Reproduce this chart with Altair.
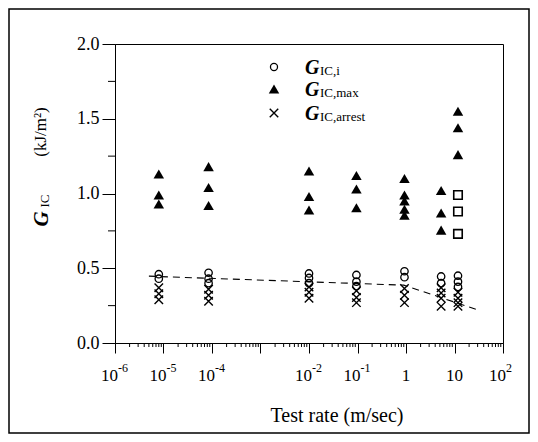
import altair as alt
import pandas as pd

# ---------------- data ----------------
rates = [8e-6, 8.5e-5, 1e-2, 0.095, 0.93, 5.3, 11.8]

gi_rate = [8e-6, 8e-6,
           8.5e-5, 8.5e-5, 8.5e-5,
           1e-2, 1e-2, 1e-2,
           0.095, 0.095, 0.095,
           0.93, 0.93,
           5.3, 5.3,
           11.8, 11.8, 11.8]
gi_val = [0.46, 0.43,
          0.47, 0.43, 0.40,
          0.465, 0.435, 0.40,
          0.455, 0.41, 0.38,
          0.48, 0.44,
          0.445, 0.40,
          0.45, 0.41, 0.375]

gmax_rate = [8e-6, 8e-6, 8e-6,
             8.5e-5, 8.5e-5, 8.5e-5,
             1e-2, 1e-2, 1e-2,
             0.095, 0.095, 0.095,
             0.93, 0.93, 0.93, 0.93, 0.93,
             5.3, 5.3, 5.3,
             11.8, 11.8, 11.8]
gmax_val = [1.13, 0.99, 0.93,
            1.18, 1.04, 0.92,
            1.15, 0.98, 0.89,
            1.12, 1.03, 0.905,
            1.10, 0.99, 0.95, 0.895, 0.855,
            1.02, 0.87, 0.755,
            1.55, 1.44, 1.26]

garr_rate = [8e-6, 8e-6, 8e-6,
             8.5e-5, 8.5e-5, 8.5e-5,
             1e-2, 1e-2, 1e-2,
             0.095, 0.095, 0.095,
             0.93, 0.93, 0.93,
             5.3, 5.3, 5.3, 5.3,
             11.8, 11.8, 11.8, 11.8]
garr_val = [0.37, 0.33, 0.29,
            0.36, 0.32, 0.28,
            0.375, 0.34, 0.30,
            0.35, 0.305, 0.27,
            0.365, 0.32, 0.27,
            0.37, 0.335, 0.30, 0.245,
            0.34, 0.30, 0.27, 0.245]

sq_rate = [11.8, 11.8, 11.8]
sq_val = [0.99, 0.88, 0.73]

trend_rate = [5e-6, 0.9, 28]
trend_val = [0.447, 0.387, 0.225]

x_major = [1e-6, 1e-5, 1e-4, 1e-3, 1e-2, 1e-1, 1, 10, 100]
x_minor = [m * 10.0 ** d for d in range(-6, 2) for m in range(2, 10)]
y_major = [0.0, 0.5, 1.0, 1.5, 2.0]
y_minor = [0.25, 0.75, 1.25, 1.75]

xlab_val = [1e-6, 1e-5, 1e-4, 1e-2, 1e-1, 1, 10, 100]
xlab_base = ["10", "10", "10", "10", "10", "1", "10", "10"]
xlab_exp = ["-6", "-5", "-4", "-2", "-1", "", "", "2"]

legend_sub = ["IC,i", "IC,max", "IC,arrest"]

FONT = "Liberation Serif"
W, H = 388, 299

xs = alt.Scale(type="log", domain=[1e-6, 100], nice=False)
ys = alt.Scale(domain=[0, 2], nice=False)

def pts(r, v):
    return pd.DataFrame({"rate": r, "g": v})

X = alt.X("rate:Q", scale=xs,
          axis=alt.Axis(values=x_major, labels=False, tickSize=10, title=None,
                        grid=False, domainColor="black", tickColor="black"))
Y = alt.Y("g:Q", scale=ys,
          axis=alt.Axis(values=y_major, format=".1f", tickSize=13, labelPadding=3,
                        labelFont=FONT, labelFontSize=18, labelColor="black",
                        title=None, grid=False, domainColor="black", tickColor="black"))

cross_path = "M-1,-1L1,1M-1,1L1,-1"

base_axes = alt.Chart(pts(gi_rate, gi_val)).mark_point(
    shape="circle", filled=False, color="black", size=55, strokeWidth=1.3, opacity=1
).encode(x=X, y=Y)

tri = alt.Chart(pts(gmax_rate, gmax_val)).mark_point(
    shape="triangle-up", filled=True, color="black", size=110, opacity=1
).encode(x=alt.X("rate:Q", scale=xs), y=alt.Y("g:Q", scale=ys))

crs = alt.Chart(pts(garr_rate, garr_val)).mark_point(
    shape=cross_path, filled=False, color="black", size=72, strokeWidth=1.4, opacity=1
).encode(x=alt.X("rate:Q", scale=xs), y=alt.Y("g:Q", scale=ys))

sq = alt.Chart(pts(sq_rate, sq_val)).mark_point(
    shape="square", filled=False, color="black", size=72, strokeWidth=1.6, opacity=1
).encode(x=alt.X("rate:Q", scale=xs), y=alt.Y("g:Q", scale=ys))

trend = alt.Chart(pts(trend_rate, trend_val)).mark_line(
    color="black", strokeDash=[7, 5], strokeWidth=1.1
).encode(x=alt.X("rate:Q", scale=xs), y=alt.Y("g:Q", scale=ys))

xminor = alt.Chart(pd.DataFrame({"rate": x_minor})).mark_rule(
    color="black", strokeWidth=1
).encode(x=alt.X("rate:Q", scale=xs), y=alt.value(H), y2=alt.value(H + 4))

yminor = alt.Chart(pd.DataFrame({"g": y_minor})).mark_rule(
    color="black", strokeWidth=1
).encode(y=alt.Y("g:Q", scale=ys), x=alt.value(-7), x2=alt.value(0))

lab = pd.DataFrame({"rate": xlab_val, "base": xlab_base, "exp": xlab_exp})
lab_base_e = alt.Chart(lab).transform_filter("datum.exp != ''").mark_text(
    font=FONT, fontSize=17, align="right", baseline="alphabetic", dx=3, color="black"
).encode(x=alt.X("rate:Q", scale=xs), y=alt.value(H + 38), text="base:N")
lab_exp = alt.Chart(lab).transform_filter("datum.exp != ''").mark_text(
    font=FONT, fontSize=12, align="left", baseline="alphabetic", dx=3, dy=-9, color="black"
).encode(x=alt.X("rate:Q", scale=xs), y=alt.value(H + 38), text="exp:N")
lab_plain = alt.Chart(lab).transform_filter("datum.exp == ''").mark_text(
    font=FONT, fontSize=17, align="center", baseline="alphabetic", color="black"
).encode(x=alt.X("rate:Q", scale=xs), y=alt.value(H + 38), text="base:N")

one = pd.DataFrame({"k": [0]})

def txt(s, x, y, size, style="normal", weight="normal", angle=0, align="left"):
    return alt.Chart(one).mark_text(
        text=s, font=FONT, fontSize=size, fontStyle=style, fontWeight=weight,
        angle=angle, align=align, baseline="alphabetic", color="black"
    ).encode(x=alt.value(x), y=alt.value(y))

xtitle = txt("Test rate  (m/sec)", 222, 378, 20, align="center")
yt_g = txt("G", -67, 175, 21, style="italic", weight="bold", angle=270, align="center")
yt_ic = txt("IC", -66, 157, 13, angle=270, align="center")
yt_u = txt("(kJ/m²)", -69, 88, 17, angle=270, align="center")

leg_rows = [23, 45, 69]
leg_c = alt.Chart(one).mark_point(shape="circle", filled=False, color="black", size=50,
                                  strokeWidth=1.3, opacity=1).encode(
    x=alt.value(159), y=alt.value(leg_rows[0]))
leg_t = alt.Chart(one).mark_point(shape="triangle-up", filled=True, color="black", size=110,
                                  opacity=1).encode(
    x=alt.value(159), y=alt.value(leg_rows[1]))
leg_x = alt.Chart(one).mark_point(shape=cross_path, filled=False, color="black", size=72,
                                  strokeWidth=1.4, opacity=1).encode(
    x=alt.value(159), y=alt.value(leg_rows[2]))
leg_texts = []
for r, s in zip(leg_rows, legend_sub):
    leg_texts.append(txt("G", 190, r + 7, 20, style="italic", weight="bold"))
    leg_texts.append(txt(s, 205, r + 8, 13))

border = alt.Chart(one).mark_rect(filled=False, stroke="black", strokeWidth=1.5).encode(
    x=alt.value(-106), x2=alt.value(414), y=alt.value(-35), y2=alt.value(389))

chart = alt.layer(
    base_axes, tri, crs, sq, trend, xminor, yminor,
    lab_base_e, lab_exp, lab_plain, xtitle, yt_g, yt_ic, yt_u,
    leg_c, leg_t, leg_x, *leg_texts, border
).properties(
    width=W, height=H,
    padding={"left": 107, "top": 36, "right": 27, "bottom": 91},
    autosize=alt.AutoSizeParams(type="none"),
    background="white",
).configure_view(stroke="black", strokeWidth=1)

chart.save("out.html", embed_options={"renderer": "svg", "actions": False})
